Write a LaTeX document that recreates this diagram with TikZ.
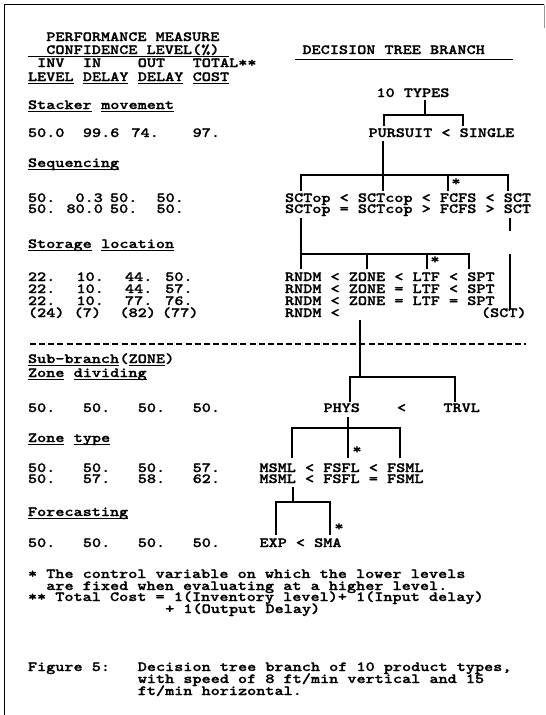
\documentclass[tikz,border=0pt]{standalone}
\usepackage{fontspec}
\newfontfamily\tw{lmmonolt10-bold.otf}[FakeStretch=1.24,FakeBold=1.3]
\tikzset{
  txt/.style={inner sep=0pt, outer sep=0pt, font=\tw\fontsize{14}{14}\selectfont, text=black, anchor=base west},
  star/.style={inner sep=0pt, outer sep=0pt, font=\tw\fontsize{14}{14}\selectfont, anchor=center},
  ulin/.style={line width=0.9pt},
  tree/.style={line width=1.2pt},
  frame/.style={line width=1.6pt},
  dashline/.style={line width=1.2pt, dash pattern=on 6pt off 3.15pt},
}
\newcommand\uword[3]{\node[txt] (#1) at (#2) {#3};
  \draw[ulin] ([yshift=-2.8pt]#1.base west) -- ([yshift=-2.8pt]#1.base east);}
\begin{document}
\begin{tikzpicture}[x=1pt,y=-1pt]
\useasboundingbox (0,0) rectangle (546,715);
% frame
\coordinate (fa) at (4.5,715);
\coordinate (fb) at (4.5,4.5);
\coordinate (fc) at (544,4.5);
\coordinate (fd) at (544,28);
\draw[frame] (fa) -- (fb) -- (fc);
\draw[line width=0.6pt, black!40] (fc) -- (fd);

% ---------------- header ----------------
\node[txt] (perf) at (46.3,41) {PERFORMANCE MEASURE};
\node[txt] (conf) at (46.3,54) {CONFIDENCE LEVEL(\%)};
\draw[ulin] ([xshift=-18.3pt,yshift=-2.8pt]conf.base west) -- ([xshift=9.15pt,yshift=-2.8pt]conf.base east);
\node[txt] (dtb) at (302.5,54) {DECISION TREE BRANCH};
\draw[ulin] ([xshift=-7.5pt,yshift=-5pt]dtb.base west) -- ([xshift=28.5pt,yshift=-5pt]dtb.base east);
\node[txt] (hinv) at (37.15,67) {INV};
\node[txt] (hin) at (82.9,67) {IN};
\node[txt] (hout) at (137.8,67) {OUT};
\node[txt] (htot) at (192.7,67) {TOTAL**};
\uword{hlev}{28,81}{LEVEL}
\uword{hdl1}{82.9,81}{DELAY}
\uword{hdl2}{137.8,81}{DELAY}
\uword{hcost}{192.7,81}{COST}

% ---------------- stacker movement ----------------
\node[txt] (ten) at (376.5,97) {10 TYPES};
\uword{stk}{28,109}{Stacker}
\uword{mov}{101.2,109}{movement}
\node[txt] (a1) at (28,137) {50.0};
\node[txt] (a2) at (82.9,137) {99.6};
\node[txt] (a3) at (131.5,137) {74.};
\node[txt] (a4) at (192.7,137) {97.};
\node[txt] (purs) at (368.5,137) {PURSUIT < SINGLE};

\coordinate (t1a) at (425,100);
\coordinate (t1b) at (425,115);
\coordinate (t1l) at (384,115);
\coordinate (t1r) at (463,115);
\coordinate (t1ld) at (384,126);
\coordinate (t1rd) at (463,126);
\draw[tree] (t1a) -- (t1b);
\draw[tree] (t1ld) -- (t1l) -- (t1r) -- (t1rd);

% ---------------- sequencing ----------------
\uword{seq}{28,167}{Sequencing}
\coordinate (t2a) at (383,141);
\coordinate (t2b) at (383,175);
\coordinate (t2l) at (301,175);
\coordinate (t2r) at (508,175);
\coordinate (t2d1) at (301,191);
\coordinate (t2d2) at (383,191);
\coordinate (t2c) at (448,175);
\coordinate (t2d3) at (448,191);
\coordinate (t2d4) at (508,191);
\draw[tree] (t2a) -- (t2b);
\draw[tree] (t2d1) -- (t2l) -- (t2r) -- (t2d4);
\draw[tree] (t2b) -- (t2d2);
\draw[tree] (t2c) -- (t2d3);
\node[star] (st1) at (456,182) {*};

\node[txt] (b1) at (28,202) {50.};
\node[txt] (b2) at (75.5,202) {0.3};
\node[txt] (b3) at (110,202) {50.};
\node[txt] (b4) at (156.5,202) {50.};
\node[txt] (sct1) at (285,202) {SCTop < SCTcop < FCFS < SCT};
\node[txt] (c1) at (28,213) {50.};
\node[txt] (c2) at (66.5,213) {80.0};
\node[txt] (c3) at (110,213) {50.};
\node[txt] (c4) at (156.5,213) {50.};
\node[txt] (sct2) at (285,213) {SCTop = SCTcop > FCFS > SCT};

% ---------------- storage location ----------------
\uword{sto}{28,248}{Storage}
\uword{loc}{101.2,248}{location}
\coordinate (t3a) at (301,218);
\coordinate (t3l) at (301,254);
\coordinate (t3r) at (469,254);
\coordinate (t3m1) at (367,254);
\coordinate (t3m2) at (427,254);
\coordinate (t3d1) at (301,269);
\coordinate (t3d2) at (367,269);
\coordinate (t3d3) at (427,269);
\coordinate (t3d4) at (469,269);
\coordinate (t3s1) at (510,218);
\coordinate (t3s2) at (510,231);
\coordinate (t3s3) at (510,254);
\coordinate (t3s4) at (510,309);
\draw[tree] (t3a) -- (t3l) -- (t3r) -- (t3d4);
\draw[tree] (t3l) -- (t3d1);
\draw[tree] (t3m1) -- (t3d2);
\draw[tree] (t3m2) -- (t3d3);
\draw[tree] (t3s1) -- (t3s2);
\draw[tree] (t3s3) -- (t3s4);
\node[star] (st2) at (435,260) {*};

\node[txt] (d1) at (28,281) {22.};
\node[txt] (d2) at (76.5,281) {10.};
\node[txt] (d3) at (125,281) {44.};
\node[txt] (d4) at (165.25,281) {50.};
\node[txt] (r1) at (285,281) {RNDM < ZONE < LTF < SPT};
\node[txt] (e1) at (28,293) {22.};
\node[txt] (e2) at (76.5,293) {10.};
\node[txt] (e3) at (125,293) {44.};
\node[txt] (e4) at (165.25,293) {57.};
\node[txt] (r2) at (285,293) {RNDM < ZONE = LTF < SPT};
\node[txt] (g1) at (28,305) {22.};
\node[txt] (g2) at (76.5,305) {10.};
\node[txt] (g3) at (125,305) {77.};
\node[txt] (g4) at (165.25,305) {76.};
\node[txt] (r3) at (285,305) {RNDM < ZONE = LTF = SPT};
\node[txt] (h1) at (28,317) {(24)};
\node[txt] (h2) at (73.75,317) {(7)};
\node[txt] (h3) at (119.5,317) {(82)};
\node[txt] (h4) at (162,317) {(77)};
\node[txt] (r4) at (285,317) {RNDM <};
\node[txt] (r4b) at (481,317) {(SCT)};

% ---------------- sub-branch ----------------
\coordinate (dl) at (30,344);
\coordinate (dr) at (526,344);
\draw[dashline] (dl) -- (dr);
\coordinate (t4a) at (360,320);
\coordinate (t4b) at (360,377);
\coordinate (t4l) at (350,377);
\coordinate (t4r) at (455,377);
\coordinate (t4ld) at (350,402);
\coordinate (t4rd) at (455,402);
\draw[tree] (t4a) -- (t4b);
\draw[tree] (t4ld) -- (t4l) -- (t4r) -- (t4rd);

\uword{sub}{28,363}{Sub-branch}
\node[txt] (subp1) at (119.5,363) {(};
\uword{subz}{128.65,363}{ZONE}
\node[txt] (subp2) at (165.25,363) {)};
\uword{zd1}{28,377}{Zone}
\uword{zd2}{73.75,377}{dividing}

\node[txt] (k1) at (28,412) {50.};
\node[txt] (k2) at (82.9,412) {50.};
\node[txt] (k3) at (137.8,412) {50.};
\node[txt] (k4) at (192.7,412) {50.};
\node[txt] (phys) at (323.5,412) {PHYS};
\node[txt] (lt) at (397,412) {<};
\node[txt] (trvl) at (443.5,412) {TRVL};

% ---------------- zone type ----------------
\uword{zt1}{28,442}{Zone}
\uword{zt2}{73.75,442}{type}
\coordinate (t5a) at (348,417);
\coordinate (t5b) at (348,428);
\coordinate (t5l) at (292,428);
\coordinate (t5r) at (400,428);
\coordinate (t5d1) at (292,458);
\coordinate (t5d2) at (348,458);
\coordinate (t5d3) at (400,458);
\draw[tree] (t5a) -- (t5b) -- (t5d2);
\draw[tree] (t5d1) -- (t5l) -- (t5r) -- (t5d3);
\node[star] (st3) at (357,450) {*};

\node[txt] (m1) at (28,472) {50.};
\node[txt] (m2) at (82.9,472) {50.};
\node[txt] (m3) at (137.8,472) {50.};
\node[txt] (m4) at (192.7,472) {57.};
\node[txt] (ms1) at (259.5,472) {MSML < FSFL < FSML};
\node[txt] (n1) at (28,483) {50.};
\node[txt] (n2) at (82.9,483) {57.};
\node[txt] (n3) at (137.8,483) {58.};
\node[txt] (n4) at (192.7,483) {62.};
\node[txt] (ms2) at (259.5,483) {MSML < FSFL = FSML};

% ---------------- forecasting ----------------
\uword{fore}{28,516}{Forecasting}
\coordinate (t6a) at (293,487);
\coordinate (t6b) at (293,502);
\coordinate (t6l) at (276,502);
\coordinate (t6r) at (330,502);
\coordinate (t6d1) at (276,535);
\coordinate (t6d2) at (330,535);
\draw[tree] (t6a) -- (t6b);
\draw[tree] (t6d1) -- (t6l) -- (t6r) -- (t6d2);
\node[star] (st4) at (339,527) {*};

\node[txt] (p1) at (28,547) {50.};
\node[txt] (p2) at (82.9,547) {50.};
\node[txt] (p3) at (137.8,547) {50.};
\node[txt] (p4) at (192.7,547) {50.};
\node[txt] (exp) at (259.5,547) {EXP < SMA};

% ---------------- notes ----------------
\node[txt] (no1) at (28,578) {* The control variable on which the lower levels};
\node[txt] (no2) at (46.3,590) {are fixed when evaluating at a higher level.};
\node[txt] (no3) at (28,601) {** Total Cost = 1(Inventory level)+ 1(Input delay)};
\node[txt] (no4) at (165.25,613) {+ 1(Output Delay)};

\node[txt] (fg0) at (28,671) {Figure 5:};
\node[txt] (fg1) at (137.8,671) {Decision tree branch of 10 product types,};
\node[txt] (fg2) at (137.8,683) {with speed of 8 ft/min vertical and 15};
\node[txt] (fg3) at (137.8,695) {ft/min horizontal.};
\end{tikzpicture}
\end{document}
